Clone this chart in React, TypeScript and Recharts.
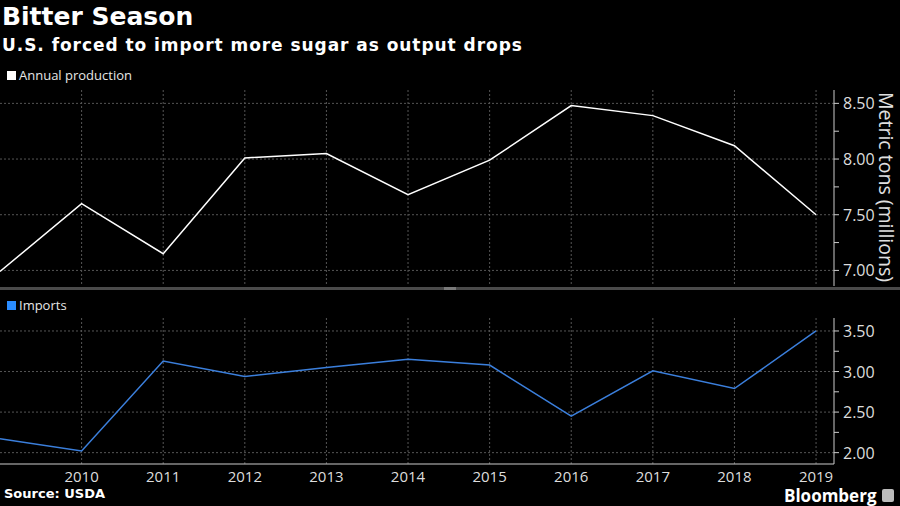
import { LineChart, Line, XAxis, YAxis, CartesianGrid } from 'recharts';

const years = [2009, 2010, 2011, 2012, 2013, 2014, 2015, 2016, 2017, 2018, 2019];
const production = [6.99, 7.6, 7.15, 8.01, 8.05, 7.68, 7.99, 8.48, 8.39, 8.12, 7.5];
const imports = [2.17, 2.02, 3.13, 2.94, 3.05, 3.15, 3.08, 2.45, 3.01, 2.79, 3.5];

const yearTicks = [2010, 2011, 2012, 2013, 2014, 2015, 2016, 2017, 2018, 2019];
const prodTicks = [7.0, 7.25, 7.5, 7.75, 8.0, 8.25, 8.5];
const prodMajor = [7.0, 7.5, 8.0, 8.5];
const importTicks = [2.0, 2.25, 2.5, 2.75, 3.0, 3.25, 3.5];
const importMajor = [2.0, 2.5, 3.0, 3.5];

const prodData = years.map((y, i) => ({ year: y, value: production[i] }));
const importData = years.map((y, i) => ({ year: y, value: imports[i] }));

const FONT = '"Open Sans", sans-serif';
const WIDE = '"DejaVu Sans", sans-serif';
const BLUE = '#3b7fdc';

function MajorTick(props: any) {
  const { x, y, payload, major } = props;
  if (!major.includes(payload.value)) return null;
  return (
    <text x={x + 2} y={y} dy={6} fill="#dddddd" fontSize={16} fontFamily={FONT} textAnchor="start">
      {payload.value.toFixed(2)}
    </text>
  );
}

export default function App() {
  return (
    <div style={{ position: 'absolute', left: 0, top: 0, width: 900, height: 506, background: '#000', overflow: 'hidden', fontFamily: FONT }}>
      <div style={{ position: 'absolute', left: 2, top: 2, color: '#fff', fontSize: 25, fontWeight: 700, fontFamily: WIDE, lineHeight: '30px' }}>
        Bitter Season
      </div>
      <div style={{ position: 'absolute', left: 2, top: 34, color: '#fff', fontSize: 17, fontWeight: 700, fontFamily: WIDE, lineHeight: '22px', letterSpacing: 0.95 }}>
        U.S. forced to import more sugar as output drops
      </div>

      <div style={{ position: 'absolute', left: 7, top: 66, color: '#e6e6e6', fontSize: 13, display: 'flex', alignItems: 'center' }}>
        <span style={{ display: 'inline-block', width: 9, height: 9, background: '#fff', marginRight: 3 }} />
        Annual production
      </div>

      <div style={{ position: 'absolute', left: 0, top: 0 }}>
        <LineChart width={900} height={290} data={prodData} margin={{ top: 90, right: 0, bottom: 4, left: 0 }}>
          <CartesianGrid
            stroke="#555"
            strokeDasharray="2 2"
            horizontalValues={prodMajor}
            verticalValues={yearTicks}
          />
          <XAxis dataKey="year" type="number" domain={[2009, 2019.22]} ticks={yearTicks} hide />
          <YAxis
            orientation="right"
            width={66}
            domain={[6.86, 8.62]}
            ticks={prodTicks}
            interval={0}
            stroke="#cccccc"
            tickSize={5}
            tick={<MajorTick major={prodMajor} />}
          />
          <Line type="linear" dataKey="value" stroke="#ffffff" strokeWidth={1.5} dot={false} isAnimationActive={false} />
        </LineChart>
      </div>

      <div
        style={{
          position: 'absolute',
          left: 875,
          top: 88,
          height: 198,
          width: 22,
          writingMode: 'vertical-rl',
          color: '#e0e0e0',
          fontSize: 19.5,
          lineHeight: '22px',
          textAlign: 'center',
          whiteSpace: 'nowrap',
        }}
      >
        Metric tons (millions)
      </div>

      <div style={{ position: 'absolute', left: 0, top: 287, width: 900, height: 3, background: '#4a4a4a' }} />
      <div style={{ position: 'absolute', left: 444, top: 287, width: 12, height: 3, background: '#7a7a7a' }} />

      <div style={{ position: 'absolute', left: 7, top: 296, color: '#e6e6e6', fontSize: 13, display: 'flex', alignItems: 'center' }}>
        <span style={{ display: 'inline-block', width: 9, height: 9, background: '#2a8cff', marginRight: 3 }} />
        Imports
      </div>

      <div style={{ position: 'absolute', left: 0, top: 290 }}>
        <LineChart width={900} height={216} data={importData} margin={{ top: 28, right: 0, bottom: 0, left: 0 }}>
          <CartesianGrid
            stroke="#555"
            strokeDasharray="2 2"
            horizontalValues={importMajor}
            verticalValues={yearTicks}
          />
          <XAxis
            dataKey="year"
            type="number"
            domain={[2009, 2019.22]}
            ticks={yearTicks}
            interval={0}
            height={42}
            stroke="#cccccc"
            tickLine={false}
            tick={{ fill: '#dddddd', fontSize: 15, fontFamily: FONT }}
            tickMargin={1}
          />
          <YAxis
            orientation="right"
            width={66}
            domain={[1.86, 3.66]}
            ticks={importTicks}
            interval={0}
            stroke="#cccccc"
            tickSize={5}
            tick={<MajorTick major={importMajor} />}
          />
          <Line type="linear" dataKey="value" stroke={BLUE} strokeWidth={1.5} dot={false} isAnimationActive={false} />
        </LineChart>
      </div>

      <div style={{ position: 'absolute', left: 4, top: 486, color: '#fff', fontSize: 13, fontWeight: 700, fontFamily: WIDE, lineHeight: '16px' }}>
        Source: USDA
      </div>
      <div style={{ position: 'absolute', left: 784, top: 488, color: '#fff', fontSize: 17, fontWeight: 700, lineHeight: '16px' }}>
        Bloomberg
      </div>
      <div style={{ position: 'absolute', left: 882, top: 489, width: 12, height: 13, background: '#bbb', borderRadius: 2 }} />
    </div>
  );
}
